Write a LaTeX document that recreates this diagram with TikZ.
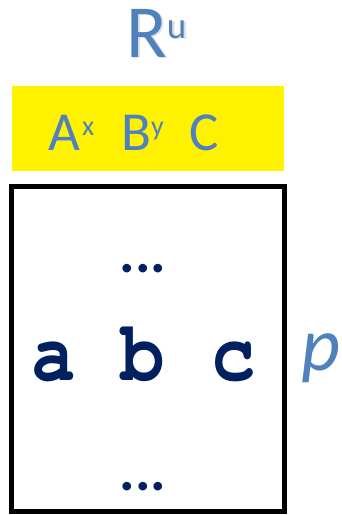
\documentclass[tikz,border=0pt]{standalone}
\usepackage[T1]{fontenc}
\usepackage{fontspec}
\usepackage{graphicx}
\setmainfont{Carlito}
\newcommand{\courierbold}{\fontencoding{T1}\fontfamily{pcr}\fontseries{b}\fontshape{n}\selectfont}
\definecolor{ublue}{HTML}{4F81BD}
\definecolor{navy}{HTML}{002060}
\begin{document}
\begin{tikzpicture}[x=1pt,y=1pt]
\tikzset{
  bluetext/.style={text=ublue, inner sep=0, anchor=base west},
  navytext/.style={text=navy, inner sep=0},
}
\useasboundingbox (0,0) rectangle (341,-515);
% title with soft shadow
\node[bluetext, text=black, opacity=0.12, font=\fontsize{75}{75}\selectfont] (titleshadow) at (128.5,-58.5) {R\raisebox{19pt}{\fontsize{37}{37}\selectfont u}};
\node[bluetext, font=\fontsize{75}{75}\selectfont] (title) at (126,-57) {R\raisebox{19pt}{\fontsize{37}{37}\selectfont u}};
% yellow header
\node[fill=yellow, minimum width=272, minimum height=85, anchor=north west, inner sep=0, outer sep=0] (hdr) at (12,-86) {};
\node[bluetext, font=\fontsize{55}{55}\selectfont] (hdrtext) at (48.5,-150) {A\hspace{1.5pt}\raisebox{15pt}{\fontsize{28}{28}\selectfont x}\hspace{27pt}B\raisebox{15pt}{\fontsize{28}{28}\selectfont y}\hspace{26pt}C};
% table box
\node[draw, line width=5pt, minimum width=273, minimum height=325, anchor=north west, inner sep=0, outer sep=0] (tbl) at (11.5,-186.5) {};
\node[navytext, anchor=base, font=\fontsize{58}{58}\selectfont\bfseries] (dotstop) at (143,-272) {...};
\node[navytext, anchor=base west, font=\courierbold\fontsize{74}{74}\selectfont] (row) at (31.5,-380.5) {\scalebox{1}[1.16]{a b\hspace{2.5pt} c}};
\node[navytext, anchor=base, font=\fontsize{58}{58}\selectfont\bfseries] (dotsbot) at (143,-490) {...};
\node[bluetext, font=\fontsize{76}{76}\selectfont\itshape] (plabel) at (301,-370) {p};
\end{tikzpicture}
\end{document}
